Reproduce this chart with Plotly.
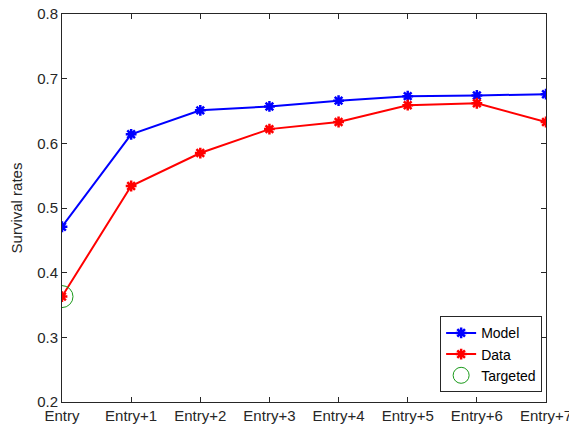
import plotly.graph_objects as go

categories = ["Entry", "Entry+1", "Entry+2", "Entry+3", "Entry+4", "Entry+5", "Entry+6", "Entry+7"]
model = [0.471, 0.614, 0.651, 0.657, 0.666, 0.673, 0.674, 0.676]
data = [0.363, 0.534, 0.585, 0.622, 0.633, 0.659, 0.662, 0.633]
targeted_x = ["Entry"]
targeted_y = [0.363]

FONT = "Liberation Sans, Arial, sans-serif"

fig = go.Figure()
fig.add_trace(go.Scatter(
    x=categories, y=model, mode="lines+markers", name="Model",
    line=dict(color="#0000ff", width=2),
    marker=dict(symbol="asterisk-open", size=9, color="#0000ff", line=dict(color="#0000ff", width=2.5)),
))
fig.add_trace(go.Scatter(
    x=categories, y=data, mode="lines+markers", name="Data",
    line=dict(color="#ff0000", width=2),
    marker=dict(symbol="asterisk-open", size=9, color="#ff0000", line=dict(color="#ff0000", width=2.5)),
))
fig.add_trace(go.Scatter(
    x=targeted_x, y=targeted_y, mode="markers", name="Targeted",
    marker=dict(symbol="circle-open", size=22, color="#1a9a1a", line=dict(color="#1a9a1a", width=1)),
))

axis_common = dict(
    showline=True, linecolor="#262626", linewidth=1, mirror="ticks",
    ticks="inside", ticklen=5, tickcolor="#262626",
    showgrid=False, zeroline=False, automargin=False,
    ticklabeloverflow="allow",
    tickfont=dict(family=FONT, size=15, color="#262626"),
)

# page body has an 8px default margin; size the figure to fit the window
fig.update_layout(
    width=569, height=418,
    margin=dict(l=54, r=31, t=6, b=24, autoexpand=False),
    plot_bgcolor="white", paper_bgcolor="white",
    font=dict(family=FONT, color="#262626"),
    xaxis=dict(**axis_common, type="category", range=[0, 7],
               categoryorder="array", categoryarray=categories),
    yaxis=dict(**axis_common, range=[0.2, 0.8], dtick=0.1, tickformat=".1f",
               title=dict(text="Survival rates", font=dict(size=15), standoff=10)),
    legend=dict(
        x=0.992, y=0.025, xanchor="right", yanchor="bottom",
        bgcolor="white", bordercolor="#262626", borderwidth=1,
        font=dict(family=FONT, size=14, color="#000000"),
        tracegroupgap=0, itemwidth=30,
    ),
    showlegend=True,
)

fig.write_html("out.html")
